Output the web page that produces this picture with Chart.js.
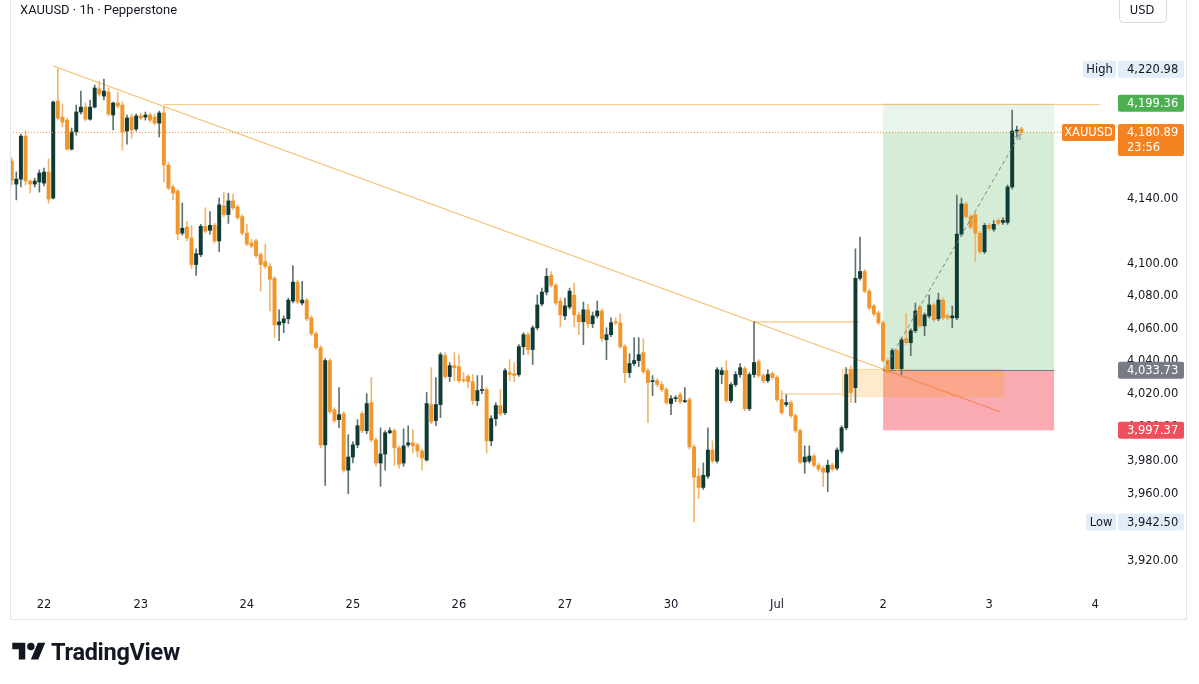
<!DOCTYPE html>
<html><head><meta charset="utf-8">
<script src="https://cdn.jsdelivr.net/npm/chart.js@4.4.1/dist/chart.umd.min.js"></script>
<style>
html,body{margin:0;padding:0;background:#fff;}
#wrap{position:relative;width:1199px;height:684px;overflow:hidden;background:#fff;}
#c{position:absolute;left:0;top:0;}
#logo{position:absolute;left:12px;top:639px;height:26px;display:flex;align-items:center;font-family:Roboto,"Noto Sans",sans-serif;font-weight:700;font-size:23.5px;color:#131722;letter-spacing:-0.3px;}
#logo svg{margin-right:5px;}
</style></head>
<body><div id="wrap"><canvas id="c" width="1199" height="684"></canvas>
<div id="logo"><svg width="34" height="26" viewBox="0 0 36 28"><path fill="#131722" d="M14 22H7V11H0V4h14v18zM28 22h-8l7.5-18h8L28 22z"/><circle fill="#131722" cx="20" cy="8" r="4"/></svg><span>TradingView</span></div></div>
<script>
// ---- data (1h XAUUSD candles) ----
const opens = [4162.9,4148.5,4151.6,4178.6,4150.4,4148.5,4149.8,4149.1,4156.0,4139.8,
4200.8,4190.6,4188.7,4170.4,4181.2,4193.8,4196.9,4189.3,4196.9,4208.4,
4203.9,4206.4,4191.9,4199.5,4198.2,4181.8,4190.6,4183.1,4191.3,4190.6,
4191.9,4190.6,4186.8,4193.2,4160.4,4146.7,4144.1,4117.9,4121.6,4114.9,
4098.5,4104.6,4122.2,4119.7,4122.8,4113.1,4134.9,4129.5,4138.0,4134.3,
4128.2,4117.9,4111.8,4113.1,4104.6,4100.3,4097.3,4090.0,4061.4,4062.7,
4065.1,4076.0,4087.6,4074.8,4076.6,4065.7,4056.0,4047.5,3988.6,4039.6,
4009.8,4003.8,4007.4,3973.4,3981.3,3988.6,4007.4,3997.1,4014.1,3991.6,
3977.7,3983.1,3995.9,3997.1,3986.8,3977.7,3988.6,3989.8,3988.6,3984.9,
3979.5,4012.9,4003.2,4012.9,4042.6,4029.9,4036.5,4035.9,4028.0,4029.9,
4026.8,4015.3,4021.4,4022.0,3991.0,4004.4,4012.3,4008.0,4032.3,4031.7,
4031.1,4048.1,4055.4,4046.3,4059.6,4074.2,4081.5,4091.8,4085.7,4076.0,
4066.9,4072.4,4079.7,4067.5,4063.3,4070.6,4062.1,4066.9,4069.9,4052.3,
4055.4,4063.3,4062.7,4048.1,4032.3,4037.8,4039.6,4044.4,4033.5,4026.8,
4027.4,4025.0,4022.0,4013.5,4016.5,4018.9,4014.7,4015.9,3987.4,3969.8,
3963.1,3969.8,3985.5,3978.9,4031.1,4033.5,4015.3,4025.0,4031.1,4034.7,
4010.4,4031.1,4039.0,4030.5,4027.4,4031.7,4029.3,4015.9,4012.9,4014.1,
4006.2,3997.1,3978.3,3978.9,3981.9,3976.4,3974.6,3972.2,3976.4,3974.6,
3984.9,3998.9,4034.1,4023.2,4090.0,4094.2,4082.1,4073.0,4068.7,4062.7,
4039.6,4034.7,4045.7,4034.7,4053.0,4050.5,4057.8,4072.4,4060.8,4066.9,
4073.6,4065.1,4076.6,4066.9,4065.7,4065.7,4117.3,4136.1,4128.2,4129.5,
4117.9,4106.4,4122.8,4120.3,4125.8,4124.6,4124.6,4146.7,4181.8,4183.1];
const highs = [4164.8,4156.1,4179.9,4181.8,4151.0,4152.2,4157.3,4158.5,4164.2,4200.8,
4220.98,4198.9,4190.0,4183.7,4198.2,4207.0,4199.5,4201.4,4210.9,4213.4,
4214.6,4209.0,4200.1,4206.4,4200.1,4191.9,4192.5,4192.5,4193.2,4193.8,
4193.2,4192.5,4194.4,4197.5,4162.2,4147.9,4145.3,4136.7,4125.2,4122.8,
4108.2,4123.4,4133.7,4131.3,4124.0,4139.8,4143.4,4142.8,4142.2,4135.5,
4129.5,4123.4,4114.3,4114.3,4105.8,4111.2,4099.1,4091.2,4070.6,4066.9,
4077.8,4097.9,4088.8,4088.2,4077.8,4066.9,4057.2,4048.7,4040.8,4040.8,
4011.0,4023.2,4008.6,3994.7,3990.4,4003.8,4008.6,4019.5,4029.3,3992.8,
3998.9,3997.1,3998.9,3998.3,3988.0,3998.3,4000.1,3997.7,3989.8,3986.1,
4020.2,4035.3,4029.3,4044.4,4044.4,4038.4,4044.4,4043.2,4032.3,4031.1,
4031.1,4030.5,4030.5,4023.2,4006.2,4014.1,4022.0,4034.7,4040.2,4038.4,
4049.3,4056.6,4056.6,4060.8,4079.7,4083.9,4096.1,4094.2,4087.0,4077.8,
4077.8,4083.9,4087.0,4069.3,4075.4,4074.2,4069.3,4076.0,4071.2,4059.6,
4065.7,4065.7,4068.1,4049.3,4043.8,4053.6,4053.6,4053.0,4034.7,4030.5,
4028.6,4026.8,4023.2,4018.3,4018.3,4020.2,4023.2,4017.1,3988.6,3974.6,
3977.7,3998.9,3991.0,4035.3,4035.3,4039.6,4026.2,4032.9,4037.8,4035.9,
4032.3,4063.2,4040.2,4031.7,4034.1,4032.9,4030.5,4021.4,4018.9,4015.3,
4007.4,3998.3,3988.0,3988.0,3983.1,3977.7,3975.8,3979.5,3977.7,3986.8,
4000.1,4035.3,4036.5,4108.2,4115.5,4095.4,4083.3,4074.2,4069.9,4063.9,
4040.8,4046.9,4046.9,4053.6,4068.1,4059.0,4074.8,4073.6,4068.7,4079.7,
4074.8,4080.9,4077.8,4068.1,4073.0,4141.6,4139.8,4137.3,4129.5,4130.7,
4119.1,4124.0,4124.0,4125.8,4127.0,4127.6,4147.9,4195.0,4184.9,4184.3];
const lows = [4147.9,4138.6,4146.7,4147.9,4142.9,4146.7,4143.5,4147.3,4136.6,4139.2,
4188.7,4184.3,4169.8,4169.8,4179.2,4192.5,4188.1,4188.7,4196.3,4203.9,
4201.4,4191.3,4182.5,4196.3,4169.8,4173.6,4177.4,4181.8,4188.7,4188.7,
4187.4,4185.6,4178.0,4149.8,4144.7,4138.6,4113.7,4116.7,4113.1,4096.1,
4091.8,4103.3,4117.9,4117.3,4111.8,4106.4,4128.2,4124.0,4132.5,4126.4,
4116.7,4110.0,4108.8,4102.7,4082.1,4096.1,4069.9,4053.6,4051.7,4056.6,
4062.1,4074.8,4074.2,4073.6,4063.9,4054.8,4046.3,3986.8,3964.3,4007.4,
4001.9,3998.9,3972.2,3959.4,3977.7,3986.8,3995.9,3995.3,3990.4,3975.8,
3963.7,3973.4,3995.3,3976.4,3974.6,3975.8,3987.4,3983.7,3981.3,3973.4,
3978.9,4001.3,4000.1,4005.0,4028.6,4026.8,4027.4,4026.2,4026.2,4023.2,
4012.9,4012.3,4019.5,3983.7,3988.0,4000.1,4006.2,4006.8,4027.4,4026.8,
4029.9,4043.2,4043.2,4037.2,4058.4,4073.0,4079.7,4084.5,4073.6,4060.2,
4064.5,4071.2,4060.2,4055.4,4049.3,4059.6,4059.6,4065.7,4051.1,4040.2,
4054.2,4061.4,4046.9,4026.2,4029.3,4036.5,4035.9,4031.7,4001.9,4018.3,
4023.8,4020.8,4012.9,4006.8,4014.7,4013.5,4014.1,3986.1,3942.5,3956.4,
3961.9,3968.5,3977.7,3977.7,4025.6,4014.1,4014.1,4023.8,4029.3,4009.2,
4009.2,4029.3,4029.3,4026.2,4026.2,4028.0,4014.7,4006.8,4011.7,4005.0,
3995.9,3977.0,3971.6,3977.7,3975.2,3972.8,3963.7,3960.6,3972.8,3973.4,
3983.7,3997.7,4014.1,4014.1,4088.8,4080.9,4070.6,4066.9,4061.4,4038.4,
4031.1,4033.5,4033.5,4031.1,4049.3,4042.6,4056.6,4059.6,4054.8,4065.7,
4063.3,4063.9,4064.5,4064.5,4059.6,4064.5,4116.1,4127.0,4120.3,4100.3,
4105.2,4105.2,4119.7,4119.1,4122.8,4123.4,4123.4,4145.4,4178.0,4179.2];
const closes = [4151.0,4151.6,4178.6,4150.4,4148.5,4150.4,4155.4,4156.0,4139.2,4200.1,
4190.0,4187.4,4170.4,4181.2,4193.8,4196.9,4189.3,4196.9,4209.0,4205.1,
4207.0,4192.5,4199.5,4197.5,4181.2,4190.0,4182.5,4191.3,4190.0,4191.9,
4188.7,4186.8,4193.2,4160.4,4146.0,4142.9,4117.4,4121.0,4114.9,4098.5,
4105.2,4122.2,4119.1,4122.8,4113.1,4135.5,4129.5,4138.0,4133.7,4127.6,
4117.9,4111.2,4110.0,4104.0,4098.5,4097.3,4089.4,4061.4,4063.3,4065.1,
4076.6,4087.6,4075.4,4076.6,4065.1,4056.0,4047.5,3988.6,4039.6,4008.6,
4003.2,4006.8,3973.4,3981.3,3988.6,4000.1,3997.1,4013.5,3991.6,3977.7,
3983.1,3995.9,3997.1,3986.8,3977.0,3988.0,3989.8,3988.0,3984.9,3980.7,
4013.5,4002.5,4012.9,4043.2,4029.9,4036.5,4035.3,4027.4,4027.4,4026.8,
4015.3,4021.4,4022.0,3991.0,4004.4,4012.3,4007.4,4033.5,4031.1,4030.5,
4048.1,4055.4,4046.3,4059.6,4073.6,4081.5,4091.2,4085.7,4074.8,4067.5,
4073.0,4082.1,4067.5,4063.3,4070.6,4062.1,4066.9,4069.9,4053.0,4055.4,
4062.7,4062.7,4048.1,4032.3,4037.8,4039.6,4043.2,4032.9,4026.2,4027.4,
4025.0,4022.0,4014.1,4016.5,4017.1,4014.7,4015.3,3987.4,3969.2,3963.1,
3970.4,3985.5,3978.9,4034.1,4033.5,4015.3,4025.0,4031.1,4035.3,4010.4,
4031.1,4038.4,4030.5,4027.4,4031.1,4029.3,4015.9,4008.0,4014.1,4006.2,
3997.1,3978.3,3981.3,3981.9,3976.4,3974.0,3972.2,3976.4,3974.0,3985.5,
3998.9,4031.1,4020.2,4090.0,4094.2,4082.1,4071.8,4068.1,4062.7,4039.6,
4032.3,4045.7,4034.7,4052.3,4050.5,4057.8,4069.9,4060.8,4067.5,4073.6,
4064.5,4076.6,4065.7,4065.7,4066.9,4117.3,4136.1,4128.2,4121.6,4117.9,
4106.4,4122.8,4121.0,4123.4,4124.0,4125.8,4146.7,4181.8,4182.4,4180.89];

const dayTickIndex = [7, 28, 51, 74, 97, 120, 143, 166, 189, 212, 235];
const dayTickLabels = ['22', '23', '24', '25', '26', '27', '30', 'Jul', '2', '3', '4'];
const priceTicks = [3920, 3960, 3980, 4000, 4020, 4040, 4060, 4080, 4100, 4140];

const highPrice = 4220.98, lowPrice = 3942.50;
const lastPrice = 4180.89, lastCountdown = '23:56';
const entryPrice = 4033.73, targetPrice = 4199.36, stopPrice = 3997.37;
const positionStart = 189, positionEnd = 226.1;
const trendStart = [9, 4223.0], trendEnd = [214.5, 4008.4];
const resistance = [33, 236, 4198.5];
const zoneRect = [180.1, 215.0, 4034.5, 4018.1];
const segHigh = [161, 183.8, 4063.2];
const segLow = [167.1, 180.1, 4019.3];
const projectionEnd = [218.7, 4179.9];

const BULL = '#103b35', BEAR = '#f0962d', BULL_WICK = '#5f7270', BEAR_WICK = '#f3b46c';
const AXIS_FONT = '11.5px "DejaVu Sans"';

function fmt(v) { return v.toLocaleString('en-US', {minimumFractionDigits: 2, maximumFractionDigits: 2}); }
const isBull = i => closes[i] >= opens[i];

const overlay = {
  id: 'overlay',
  beforeDatasetsDraw(chart) {
    const {ctx, chartArea: a, scales: {x, y}} = chart;
    ctx.save();
    ctx.beginPath(); ctx.rect(a.left, a.top, a.right - a.left, a.bottom - a.top); ctx.clip();
    const line = (x0, v0, x1, v1, color, w) => {
      ctx.strokeStyle = color; ctx.lineWidth = w || 1;
      ctx.beginPath(); ctx.moveTo(x.getPixelForValue(x0), y.getPixelForValue(v0));
      ctx.lineTo(x.getPixelForValue(x1), y.getPixelForValue(v1)); ctx.stroke();
    };
    const lc = 'rgba(244,170,70,0.8)';
    line(trendStart[0], trendStart[1], trendEnd[0], trendEnd[1], lc, 1.1);
    line(resistance[0], resistance[2], resistance[1], resistance[2], 'rgba(244,180,90,0.75)', 1);
    line(segHigh[0], segHigh[2], segHigh[1], segHigh[2], 'rgba(244,180,90,0.8)', 1.2);
    line(segLow[0], segLow[2], segLow[1], segLow[2], 'rgba(244,180,90,0.8)', 1.2);

    const p0 = x.getPixelForValue(positionStart), p1 = x.getPixelForValue(positionEnd);
    const yT = y.getPixelForValue(targetPrice), yE = y.getPixelForValue(entryPrice);
    const yS = y.getPixelForValue(stopPrice), yC = y.getPixelForValue(lastPrice);
    ctx.fillStyle = 'rgba(76,175,80,0.12)'; ctx.fillRect(p0, yT, p1 - p0, yE - yT);
    ctx.fillStyle = 'rgba(76,175,80,0.12)'; ctx.fillRect(p0, yC, p1 - p0, yE - yC);
    ctx.fillStyle = 'rgba(242,54,69,0.42)'; ctx.fillRect(p0, yE, p1 - p0, yS - yE);

    const r0 = x.getPixelForValue(zoneRect[0]), r1 = x.getPixelForValue(zoneRect[1]);
    const rt = y.getPixelForValue(zoneRect[2]), rb = y.getPixelForValue(zoneRect[3]);
    ctx.fillStyle = 'rgba(255,152,0,0.2)'; ctx.fillRect(r0, rt, r1 - r0, rb - rt);
    ctx.strokeStyle = 'rgba(255,152,0,0.25)'; ctx.lineWidth = 1; ctx.strokeRect(r0 + 0.5, rt + 0.5, r1 - r0, rb - rt);

    ctx.strokeStyle = '#787b86'; ctx.lineWidth = 1;
    ctx.beginPath(); ctx.moveTo(p0, Math.round(yE) + 0.5); ctx.lineTo(p1, Math.round(yE) + 0.5); ctx.stroke();
    ctx.restore();
  },
  afterDatasetsDraw(chart) {
    const {ctx, chartArea: a, scales: {x, y}} = chart;
    ctx.save();
    const sx = x.getPixelForValue(positionStart), sy = y.getPixelForValue(entryPrice);
    const ex = x.getPixelForValue(projectionEnd[0]), ey = y.getPixelForValue(projectionEnd[1]);
    ctx.strokeStyle = 'rgba(120,123,134,0.9)'; ctx.lineWidth = 1; ctx.setLineDash([4, 3]);
    ctx.beginPath(); ctx.moveTo(sx, sy); ctx.lineTo(ex, ey); ctx.stroke();
    ctx.setLineDash([]);
    const ang = Math.atan2(ey - sy, ex - sx);
    ctx.beginPath();
    ctx.moveTo(ex - 6 * Math.cos(ang - 0.5), ey - 6 * Math.sin(ang - 0.5));
    ctx.lineTo(ex, ey);
    ctx.lineTo(ex - 6 * Math.cos(ang + 0.5), ey - 6 * Math.sin(ang + 0.5));
    ctx.stroke();
    const yc = Math.round(y.getPixelForValue(lastPrice)) + 0.5;
    ctx.strokeStyle = 'rgba(240,140,40,0.9)'; ctx.setLineDash([1, 2]);
    ctx.beginPath(); ctx.moveTo(a.left, yc); ctx.lineTo(a.right, yc); ctx.stroke();
    ctx.restore();
  },
  afterDraw(chart) {
    const {ctx, scales: {y}} = chart;
    ctx.save();
    ctx.textBaseline = 'middle';
    const box = (bx, by, w, h, fill) => { ctx.fillStyle = fill; ctx.beginPath(); ctx.roundRect(bx, by, w, h, 2); ctx.fill(); };
    const label = (v, text, bg, fg) => {
      const py = y.getPixelForValue(v);
      box(1118, py - 8.5, 66, 17, bg);
      ctx.fillStyle = fg; ctx.font = AXIS_FONT; ctx.textAlign = 'left';
      ctx.fillText(text, 1127, py + 1);
      return py;
    };
    const side = (py, bx, w, text, bg, fg) => {
      box(bx, py - 8.5, w, 17, bg);
      ctx.fillStyle = fg; ctx.font = AXIS_FONT; ctx.textAlign = 'center';
      ctx.fillText(text, bx + w / 2, py + 1);
    };
    let py = label(highPrice, fmt(highPrice), '#e3edf9', '#131722');
    side(py, 1083, 33, 'High', '#e3edf9', '#131722');
    label(targetPrice, fmt(targetPrice), '#4caf50', '#ffffff');
    py = y.getPixelForValue(lastPrice);
    box(1118, py - 8.5, 66, 32, '#f48221');
    ctx.fillStyle = '#fff'; ctx.font = AXIS_FONT; ctx.textAlign = 'left';
    ctx.fillText(fmt(lastPrice), 1127, py + 1);
    ctx.fillText(lastCountdown, 1127, py + 16);
    side(py, 1062, 53, 'XAUUSD', '#f48221', '#ffffff');
    label(entryPrice, fmt(entryPrice), '#787b86', '#ffffff');
    label(stopPrice, fmt(stopPrice), '#f0505c', '#ffffff');
    py = label(lowPrice, fmt(lowPrice), '#e3edf9', '#131722');
    side(py, 1086, 30, 'Low', '#e3edf9', '#131722');

    ctx.fillStyle = '#131722'; ctx.font = '13px Roboto'; ctx.textAlign = 'left';
    ctx.fillText('XAUUSD \u00b7 1h \u00b7 Pepperstone', 20, 11);
    ctx.strokeStyle = '#d6d9e0'; ctx.lineWidth = 1;
    ctx.beginPath(); ctx.roundRect(1119.5, -4.5, 47, 27, 4); ctx.stroke();
    ctx.fillStyle = '#131722'; ctx.font = AXIS_FONT; ctx.textAlign = 'center';
    ctx.fillText('USD', 1142, 11);
    ctx.strokeStyle = '#e0e3eb';
    ctx.beginPath();
    ctx.moveTo(10.5, 0); ctx.lineTo(10.5, 619.5); ctx.lineTo(1186.5, 619.5); ctx.lineTo(1186.5, 0);
    ctx.stroke();
    ctx.restore();
  }
};

const noPad = s => { s.paddingTop = 0; s.paddingBottom = 0; s.paddingLeft = 0; s.paddingRight = 0; };

new Chart(document.getElementById('c'), {
  type: 'bar',
  data: {
    datasets: [
      {
        label: 'wicks',
        data: highs.map((h, i) => ({x: i, y: [lows[i], h]})),
        backgroundColor: c => isBull(c.dataIndex) ? BULL_WICK : BEAR_WICK,
        barThickness: 1, grouped: false, order: 2, borderWidth: 0
      },
      {
        label: 'bodies',
        data: opens.map((o, i) => ({x: i, y: [o, closes[i]]})),
        backgroundColor: c => isBull(c.dataIndex) ? BULL : BEAR,
        barThickness: 3.3, minBarLength: 1, grouped: false, order: 1, borderWidth: 0
      }
    ]
  },
  options: {
    responsive: false, animation: false,
    layout: {padding: {left: 10, right: 14, top: 0, bottom: 64}},
    plugins: {legend: {display: false}, tooltip: {enabled: false}, title: {display: false}},
    scales: {
      x: {
        type: 'linear', min: -0.37, max: 239.3, offset: false,
        grid: {display: false, drawTicks: false}, border: {display: false},
        afterBuildTicks: s => { s.ticks = dayTickIndex.map(v => ({value: v})); },
        afterFit: s => { s.height = 30; noPad(s); },
        ticks: {
          autoSkip: false, maxRotation: 0, padding: 8, color: '#131722', font: {family: 'DejaVu Sans', size: 11.5},
          callback: v => dayTickLabels[dayTickIndex.indexOf(v)]
        }
      },
      y: {
        type: 'logarithmic', position: 'right', min: 3902.3, max: 4265.2, bounds: 'data',
        grid: {display: false, drawTicks: false}, border: {display: false},
        afterBuildTicks: s => { s.ticks = priceTicks.map(v => ({value: v})); },
        afterFit: s => { s.width = 70; noPad(s); },
        ticks: {
          padding: 12, labelOffset: 1.5, color: '#131722', font: {family: 'DejaVu Sans', size: 11.5},
          callback: v => fmt(v)
        }
      }
    }
  },
  plugins: [overlay]
});
</script>
</body></html>
